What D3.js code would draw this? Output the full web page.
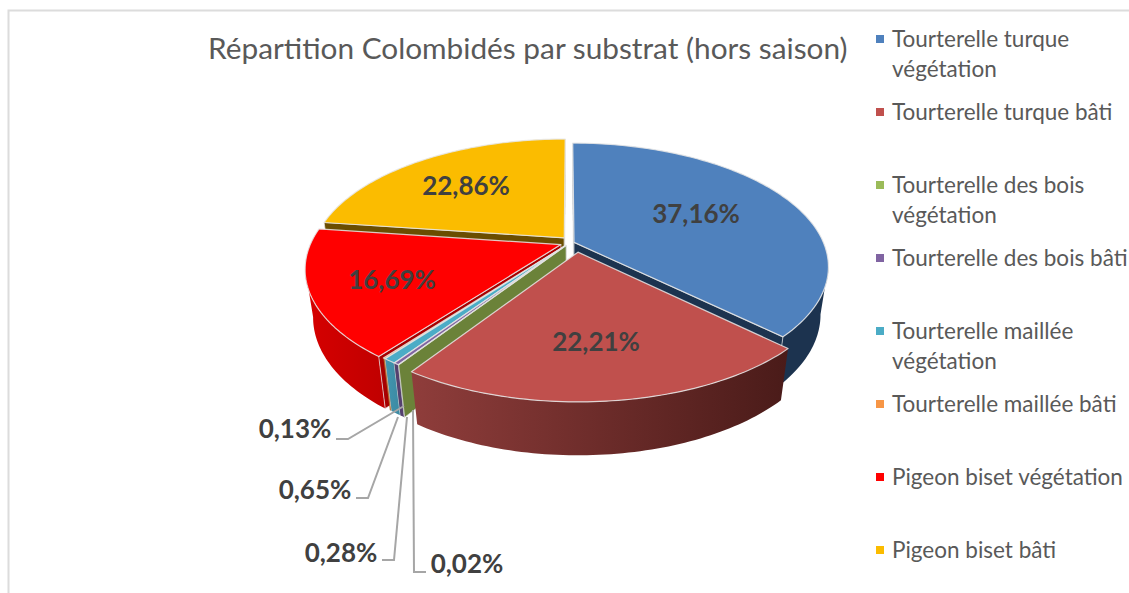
<!DOCTYPE html>
<html><head><meta charset="utf-8">
<style>html,body{margin:0;padding:0;background:#fff}svg{display:block}text{font-family:Lato,"Noto Sans",sans-serif}</style>
<script src="https://cdn.jsdelivr.net/npm/d3@7/dist/d3.min.js"></script>
</head><body><svg id="c" width="1129" height="593"></svg>
<script>
const title = "Répartition Colombidés par substrat (hors saison)";
const categories = [
  ["Tourterelle turque","végétation"],
  ["Tourterelle turque bâti"],
  ["Tourterelle des bois","végétation"],
  ["Tourterelle des bois bâti"],
  ["Tourterelle maillée","végétation"],
  ["Tourterelle maillée bâti"],
  ["Pigeon biset végétation"],
  ["Pigeon biset bâti"]
];
const values = [37.16,22.21,0.02,0.28,0.65,0.13,16.69,22.86];
const topColors  = ["#4f81bd","#c0504d","#9bbb59","#8064a2","#4bacc6","#f79646","#ff0000","#fbbc00"];
const faceColors = ["#1c334f","#4a1c1a","#6b8239","#54406f","#4296b0","#b06a2c","#a80000","#6a4d00"];
const wallLeft   = ["#1c334f","#8f3d3b","#6b8239","#54406f","#4296b0","#b06a2c","#d60000","#6a4d00"];
const wallRight  = ["#1c334f","#4a1b19","#6b8239","#54406f","#3b89a2","#b06a2c","#c00000","#6a4d00"];
const sliceShift = [[0,-1],[11,3],[5,-3],[5,-3],[5,-3],[5,-3],[3,-2],[4,-4]];
const labelPos = [[696,214],[596,342],[467,564],[341,553],[315,490],[295,429],[392,280],[466,186]];
const leaderElbow = [null,null,[[426,572],[414,572]],[[382,560],[394,560]],[[356,498],[368,498]],[[336,439],[348,439]],null,null];
const leaderEnd   = [null,null,[413,410],[407,417],[398,417],[404,406],null,null];

const W=1129,H=593;
const svg=d3.select("#c");
const cx=566,cy=245,rx=250,ry=119,persp=0.193,depth=49,depthShrink=0.03,explode=0.035;
const sx=d3.scaleLinear().domain([0,1]).range([cx,cx+rx]);
const sy=d3.scaleLinear().domain([0,1]).range([cy,cy+ry]);
const fmt=v=>v.toFixed(2).replace(".",",")+"%";

function proj(u,v,z){
  const w=1-persp*v+depthShrink*z;
  return [sx(u/w), sy(v/w)+depth*z/w];
}
const pie=d3.pie().sort(null).value(d=>d);
const arcs=pie(values).map((d,i)=>{
  const m=(d.startAngle+d.endAngle)/2;
  return {i,a0:d.startAngle,a1:d.endAngle,m,ox:explode*Math.sin(m),oy:-explode*Math.cos(m),value:d.value};
});
function pt(s,a,r,z){
  const p=proj(s.ox+r*Math.sin(a),s.oy-r*Math.cos(a),z);
  return [p[0]+sliceShift[s.i][0],p[1]+sliceShift[s.i][1]];
}
const line=d3.line();
const samples=(a,b)=>{const n=Math.max(2,Math.ceil((b-a)/0.02));return d3.range(n+1).map(k=>a+(b-a)*k/n);};
const area=p=>d3.polygonArea(p);

const defs=svg.append("defs");
const sil0=101*Math.PI/180, sil1=259*Math.PI/180;
const gPie=svg.append("g");
const order=arcs.slice().sort((a,b)=>(-Math.cos(a.m))-(-Math.cos(b.m)));
order.forEach(s=>{
  const g=gPie.append("g");
  const wa=Math.max(s.a0,sil0), wb=Math.min(s.a1,sil1);
  if(wb>wa){
    const as=samples(wa,wb);
    const poly=as.map(a=>pt(s,a,1,0)).concat(as.slice().reverse().map(a=>pt(s,a,1,1)));
    const xs=d3.extent(poly,p=>p[0]);
    const id="w"+s.i;
    const gr=defs.append("linearGradient").attr("id",id).attr("gradientUnits","userSpaceOnUse")
      .attr("x1",xs[0]).attr("x2",xs[1]).attr("y1",0).attr("y2",0);
    gr.append("stop").attr("offset",0).attr("stop-color",wallLeft[s.i]);
    gr.append("stop").attr("offset",1).attr("stop-color",wallRight[s.i]);
    g.append("path").attr("d",line(poly)+"Z").attr("fill",`url(#${id})`);
  }
  [s.a0,s.a1].forEach((a,k)=>{
    const q=[pt(s,a,0,0),pt(s,a,1,0),pt(s,a,1,1),pt(s,a,0,1)];
    const front=k===0?area(q)>0:area(q)<0;
    if(front) g.append("path").attr("d",line(q)+"Z").attr("fill",faceColors[s.i])
      .attr("stroke","#e6e6e6").attr("stroke-opacity",.7).attr("stroke-width",1);
  });
  const top=[pt(s,0,0,0)].concat(samples(s.a0,s.a1).map(a=>pt(s,a,1,0)));
  g.append("path").attr("d",line(top)+"Z").attr("fill",topColors[s.i])
    .attr("stroke","#e6e6e6").attr("stroke-opacity",.85).attr("stroke-width",1.2).attr("stroke-linejoin","round");
});

// leaders
arcs.forEach(s=>{
  if(!leaderEnd[s.i]) return;
  svg.append("path").attr("d",line(leaderElbow[s.i].concat([leaderEnd[s.i]])))
    .attr("fill","none").attr("stroke","#a6a6a6").attr("stroke-width",2);
});
// labels
svg.append("g").selectAll("text").data(arcs).join("text")
  .attr("x",d=>labelPos[d.i][0]).attr("y",d=>labelPos[d.i][1]).attr("dy","0.35em")
  .attr("text-anchor","middle").attr("font-size",26).attr("font-weight",700).attr("fill","#404040")
  .text(d=>fmt(d.value));
// title
svg.append("text").attr("x",208).attr("y",59).attr("font-size",29.8).attr("fill","#595959").text(title);
// legend
const legY=d3.scaleLinear().domain([0,7]).range([39,550]);
const leg=svg.append("g");
categories.forEach((c,i)=>{
  leg.append("rect").attr("x",876).attr("y",legY(i)-4).attr("width",8).attr("height",8).attr("fill",topColors[i]);
  c.forEach((t,k)=>leg.append("text").attr("x",892).attr("y",legY(i)+k*30).attr("dy","0.36em")
    .attr("font-size",22.5).attr("fill","#595959").text(t));
});
svg.append("path").attr("d","M8.5,"+H+"V10.5H"+W).attr("fill","none").attr("stroke","#dcdcdc").attr("stroke-width",2);
</script></body></html>
